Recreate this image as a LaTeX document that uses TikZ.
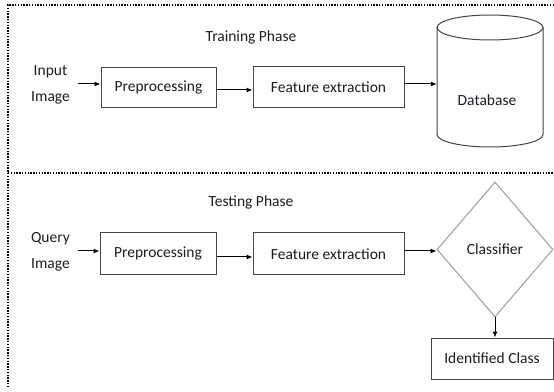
\documentclass[tikz,border=0pt]{standalone}
\usepackage{fontspec}
\setmainfont{Carlito}
\usetikzlibrary{arrows.meta,shapes.geometric}
\definecolor{boxline}{HTML}{444444}
\definecolor{dialine}{HTML}{9C9C9C}
\definecolor{txt}{HTML}{1E1A22}
\tikzset{
  frame/.style={line width=1.8pt,dash pattern=on 1.4pt off 1.4pt,black},
  procbox/.style={draw=boxline,line width=1pt,rectangle,inner sep=0pt,
    text=txt,font=\fontsize{15.5}{18}\selectfont},
  label/.style={text=txt,font=\fontsize{15.5}{26}\selectfont,align=center,inner sep=0pt},
  arr/.style={line width=1pt,-{Latex[length=6pt,width=5pt]}}
}
\begin{document}
\begin{tikzpicture}[x=1pt,y=1pt]
\useasboundingbox (0,0) rectangle (554,391);
% dotted frames of the two phases
\coordinate (ftl) at (8,386);
\coordinate (ftr) at (554,386);
\coordinate (fml) at (8,218);
\coordinate (fmr) at (554,218);
\coordinate (fbl) at (8,3);
\draw[frame] (ftr) -- (ftl) -- (fbl);
\draw[frame] (fml) -- (fmr);

% ---- training phase ----
\node[label] (trn) at (251,354) {Training Phase};
\node[label,anchor=east] (inp) at (70,306) {Input\\Image};
\node[procbox,minimum width=115pt,minimum height=40pt] (pre1) at (158.5,303) {Preprocessing};
\node[procbox,minimum width=151pt,minimum height=41pt] (fe1) at (328.5,303.5) {Feature extraction};
% database cylinder
\node[inner sep=0pt,minimum width=106pt,minimum height=107pt] (db) at (490,310) {};
\draw[boxline,line width=1pt] (490,363.5) ellipse [x radius=53pt,y radius=12.5pt];
\draw[boxline,line width=1pt] (437,363.5) -- (437,256.5)
  arc[start angle=180,end angle=360,x radius=53pt,y radius=12.5pt] -- (543,363.5);
\node[label] (dbt) at (487,291) {Database};
\draw[arr] ([xshift=8pt,yshift=1pt]inp.east) -- ([yshift=4pt]pre1.west);
\draw[arr] ([yshift=-2pt]pre1.east) -- ([yshift=-2pt]pre1.east -| fe1.west);
\draw[arr] ([yshift=3.5pt]fe1.east) -- ([yshift=3.5pt]fe1.east -| db.west);

% ---- testing phase ----
\node[label] (tst) at (251,189) {Testing Phase};
\node[label,anchor=east] (qry) at (70,139) {Query\\Image};
\node[procbox,minimum width=116pt,minimum height=42pt] (pre2) at (158,137) {Preprocessing};
\node[procbox,minimum width=151pt,minimum height=42pt] (fe2) at (328.5,137) {Feature extraction};
\node[diamond,draw=dialine,line width=1pt,inner sep=0pt,minimum width=116pt,
  minimum height=135pt,text=txt,font=\fontsize{15.5}{18}\selectfont] (cls) at (495,141.5) {Classifier};
\node[procbox,minimum width=122pt,minimum height=41pt] (idc) at (492,32.5) {Identified Class};
\draw[arr] ([xshift=8pt,yshift=1pt]qry.east) -- ([yshift=3pt]pre2.west);
\draw[arr] ([yshift=-3pt]pre2.east) -- ([yshift=-3pt]pre2.east -| fe2.west);
\draw[arr] ([yshift=3pt]fe2.east) -- ([yshift=3pt]fe2.east -| cls.west);
\draw[arr] (cls.south) -- (cls.south |- idc.north);
\end{tikzpicture}
\end{document}
